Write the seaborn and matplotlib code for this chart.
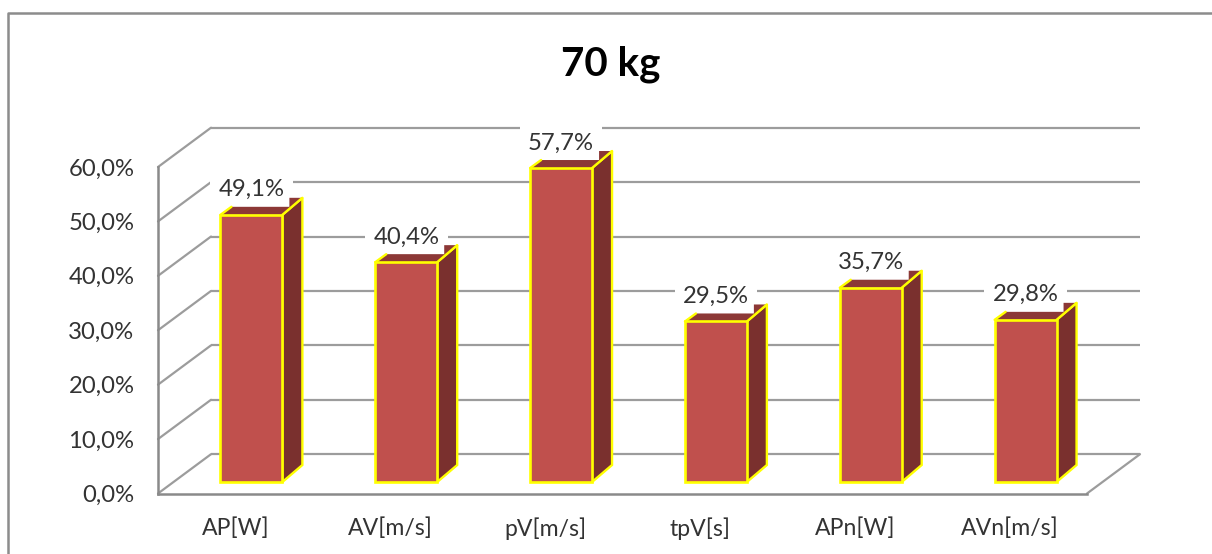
import matplotlib
matplotlib.use("Agg")
import matplotlib.pyplot as plt
from matplotlib.patches import Polygon
from matplotlib.lines import Line2D
import seaborn as sns

categories = ["AP[W]", "AV[m/s]", "pV[m/s]", "tpV[s]", "APn[W]", "AVn[m/s]"]
values = [49.1, 40.4, 57.7, 29.5, 35.7, 29.8]
y_ticks = [0, 10, 20, 30, 40, 50, 60]
title = "70 kg"

sns.set_theme(style="white")
plt.rcParams["font.family"] = ["Lato", "DejaVu Sans"]

GRID = "#9c9c9c"
AXIS = "#8a8a8a"
EDGE = "#ffff00"
FRONT = "#c0504d"
SIDE = "#7a302e"
TOP = "#8c3836"

fig = plt.figure(figsize=(12.12, 5.54), dpi=100, facecolor="white")
ax = fig.add_axes([158 / 1212, (554 - 493.5) / 554, 929 / 1212, 326.5 / 554])

sns.barplot(x=categories, y=values, color=FRONT, saturation=1, width=0.4,
            edgecolor=EDGE, linewidth=1.9, ax=ax)
ax.set_xlim(-0.5, 5.5)
ax.set_ylim(0, 60)

# pixels -> data units
sx = 5 / (929 / 6 * 5)
sy = 60 / 326.5

# back wall and floor
wall_x = 53 * sx
wall_y = 39.3 * sy
for t in y_ticks:
    ax.plot([-0.5 + wall_x, 5.5 + wall_x], [t + wall_y, t + wall_y], color=GRID, lw=1.6,
            clip_on=False, zorder=1, solid_capstyle="butt")
    ax.plot([-0.5, -0.5 + wall_x], [t, t + wall_y], color=GRID, lw=1.6, clip_on=False, zorder=1)
ax.plot([5.5, 5.5 + wall_x], [0, wall_y], color=GRID, lw=1.6, clip_on=False, zorder=1)

# move bars to their slot in the depth, add the side and top faces
shift_x = 16 * sx
shift_y = 11.5 * sy
dx = 20 * sx
dy = 17 * sy
for bar, v in zip(ax.patches, values):
    bar.set_x(bar.get_x() + shift_x)
    bar.set_y(shift_y)
    bar.set_zorder(5)
    bar.set_clip_on(False)
    l = bar.get_x()
    r = l + bar.get_width()
    b = shift_y
    t = shift_y + v

    ax.add_patch(Polygon([(r, t), (r + dx, t + dy), (r + dx, b + dy), (r, b)], closed=True,
                         facecolor=SIDE, edgecolor=EDGE, lw=1.7, clip_on=False, zorder=4))
    # excel leaves a small notch at the back of the top face
    ax.add_patch(Polygon([(l, t), (l + 11 * sx, t + 8 * sy), (r + 7 * sx, t + 8 * sy),
                          (r + 7 * sx, t + dy), (r + dx, t + dy), (r, t)], closed=True,
                         facecolor=TOP, edgecolor="none", clip_on=False, zorder=4))
    ax.plot([l, l + 11 * sx], [t, t + 8 * sy], color=EDGE, lw=1.7, clip_on=False, zorder=4.5)
    ax.plot([r, r + dx], [t, t + dy], color=EDGE, lw=1.7, clip_on=False, zorder=4.5)

    ax.text((l + r) / 2, t + 25 * sy, f"{v:.1f}%".replace(".", ","), ha="center", va="center",
            fontsize=17.2, color="#333333", zorder=3,
            bbox=dict(facecolor="white", edgecolor="none", boxstyle="square,pad=0.35"))

ax.set_yticks(y_ticks)
ax.set_yticklabels([f"{t:.1f}%".replace(".", ",") for t in y_ticks])
ax.tick_params(axis="y", length=0, pad=17, labelsize=17.2, labelcolor="#333333")
ax.tick_params(axis="x", length=0, pad=17.5, labelsize=16.6, labelcolor="#333333")
ax.set_xlabel("")
ax.set_ylabel("")

sns.despine(ax=ax, top=True, right=True)
for side in ["left", "bottom"]:
    ax.spines[side].set_color(AXIS)
    ax.spines[side].set_linewidth(1.8)

fig.text(611 / 1212, 1 - 64 / 554, title, ha="center", va="center", fontsize=29,
         fontweight="bold", color="black")

# chart frame, cut off by the screenshot on the right and bottom
fig.add_artist(Line2D([8 / 1212, 8 / 1212, 1], [0, 1 - 12.5 / 554, 1 - 12.5 / 554],
                      color="#8c8c8c", lw=1.8, transform=fig.transFigure))

fig.savefig("out.png", dpi=100)
